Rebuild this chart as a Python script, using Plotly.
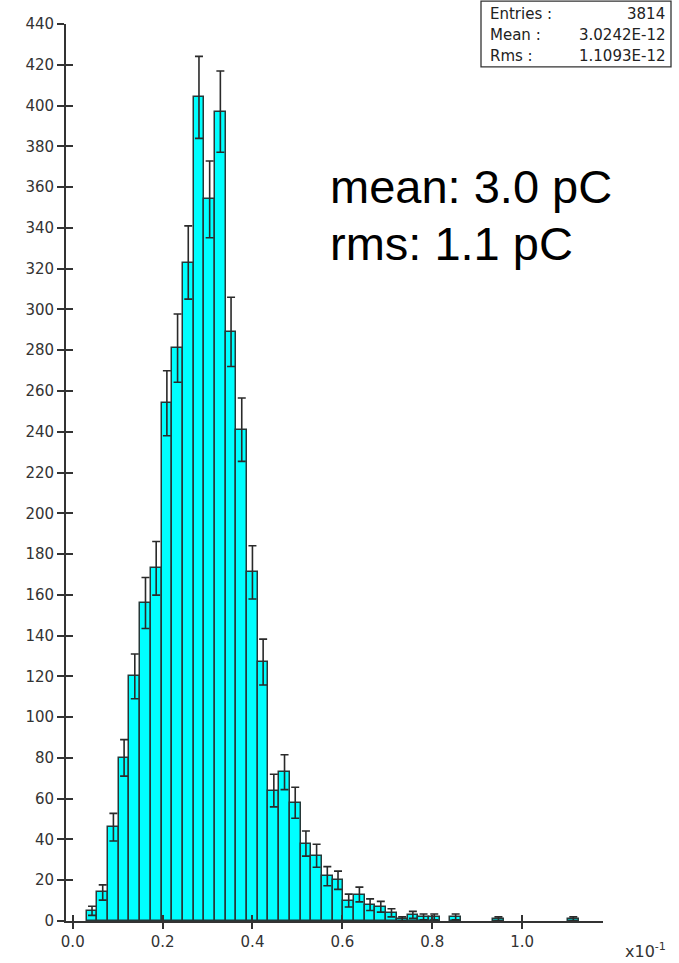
import numpy as np
import plotly.graph_objects as go

# ---- data ----
bin_start = 0.031
bin_width = 0.0238
counts = [5, 14, 46, 80, 120, 156, 173, 254, 281, 323,
          404, 354, 397, 289, 241, 171, 127, 64, 73, 58,
          38, 32, 22, 20, 10, 13, 8, 7, 4, 1,
          3, 2, 2, 0, 2, 0, 0, 0, 1, 0,
          0, 0, 0, 0, 0, 1]
y_ticks = list(range(0, 441, 20))
x_ticks = [0.0, 0.2, 0.4, 0.6, 0.8, 1.0]
stats_labels = ["Entries :", "Mean :", "Rms :"]
stats_values = ["3814", "3.0242E-12", "1.1093E-12"]
note_lines = ["mean: 3.0 pC", "rms: 1.1 pC"]

centers = [bin_start + (i + 0.5) * bin_width for i in range(len(counts))]
xs = [c for c, n in zip(centers, counts) if n > 0]
ns = [n for n in counts if n > 0]
errs = [float(np.sqrt(n)) for n in ns]

# ---- layout geometry ----
W, H = 679, 963
L, R, T, B = 66, 603, 24, 923
def px(x): return (x - L) / (R - L)
def py(y): return (B - y) / (B - T)

AX = "#333333"
fig = go.Figure()
fig.add_trace(go.Bar(
    x=xs, y=ns, width=bin_width,
    marker=dict(color="#00FFFF", line=dict(color="#263838", width=1.5)),
    error_y=dict(type="data", array=errs, visible=True, color="#2a2a2a",
                 thickness=1.6, width=4),
    showlegend=False,
))
# invisible trace for overlay axes (inside half of the crossing ticks)
fig.add_trace(go.Scatter(x=[0], y=[0], xaxis="x2", yaxis="y2", mode="markers",
                         marker=dict(opacity=0), showlegend=False, hoverinfo="skip"))

xrange = [-0.015, 1.18]
yrange = [0, 440]
tick_font = dict(family="DejaVu Sans", size=15, color="#333333")
fig.update_layout(
    width=W, height=H,
    margin=dict(l=L, r=W - R, t=T, b=H - B, pad=0),
    paper_bgcolor="white", plot_bgcolor="white",
    bargap=0,
    xaxis=dict(range=xrange, tickvals=x_ticks, ticktext=[f"{v:.1f}" for v in x_ticks],
               ticks="outside", ticklen=6, tickwidth=1.5, tickcolor=AX,
               showline=True, linecolor=AX, linewidth=1.8, showgrid=False,
               zeroline=False, tickfont=tick_font),
    yaxis=dict(range=yrange, tickvals=y_ticks, ticks="outside", ticklen=7,
               tickwidth=1.5, tickcolor=AX, showline=True, linecolor=AX,
               linewidth=1.8, showgrid=False, zeroline=False, tickfont=tick_font),
    xaxis2=dict(range=xrange, overlaying="x", anchor="y2", side="bottom",
                tickvals=x_ticks, ticks="inside",
                ticklen=6, tickwidth=1.5, tickcolor=AX, showticklabels=False,
                showline=False, showgrid=False, zeroline=False),
    yaxis2=dict(range=yrange, overlaying="y", anchor="x2", side="left",
                tickvals=y_ticks, ticks="inside",
                ticklen=7, tickwidth=1.5, tickcolor=AX, showticklabels=False,
                showline=False, showgrid=False, zeroline=False),
)

# stats box
fig.add_shape(type="rect", xref="paper", yref="paper",
              x0=px(481), x1=px(671), y0=py(67), y1=py(1),
              line=dict(color="#333333", width=1.3), fillcolor="white")
line_y = [14, 35, 56]
for lab, val, yy in zip(stats_labels, stats_values, line_y):
    fig.add_annotation(xref="paper", yref="paper", x=px(488), y=py(yy), text=lab,
                       showarrow=False, xanchor="left", yanchor="middle",
                       font=dict(family="DejaVu Sans", size=15, color="#222222"))
    fig.add_annotation(xref="paper", yref="paper", x=px(667), y=py(yy), text=val,
                       showarrow=False, xanchor="right", yanchor="middle",
                       font=dict(family="DejaVu Sans", size=15, color="#222222"))

# big note
for txt, yy in zip(note_lines, [187, 244]):
    fig.add_annotation(xref="paper", yref="paper", x=px(328), y=py(yy), text=txt,
                       showarrow=False, xanchor="left", yanchor="middle",
                       font=dict(family="Liberation Sans", size=47, color="black"))

# axis multiplier
fig.add_annotation(xref="paper", yref="paper", x=px(668), y=py(953),
                   text="x10<sup>-1</sup>", showarrow=False, xanchor="right",
                   yanchor="middle", font=dict(family="DejaVu Sans", size=16, color="#333333"))

fig.write_html("out.html")
